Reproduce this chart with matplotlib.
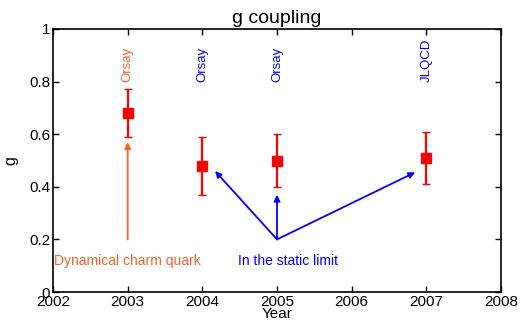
import numpy as np
from matplotlib import pyplot as plt

plt.rcParams['font.family'] = ['Liberation Sans', 'DejaVu Sans']

years = [2003, 2004, 2005, 2007]
g = [0.68, 0.48, 0.50, 0.51]
g_err = [0.09, 0.11, 0.10, 0.10]
groups = ['Orsay', 'Orsay', 'Orsay', 'JLQCD']
group_colors = ['#ff6020', 'blue', 'blue', 'blue']

orange = '#ff6020'

fig = plt.figure(figsize=(5.23, 3.23), dpi=100)
ax = fig.add_axes([53 / 523, 31 / 323, 448 / 523, 263 / 323])

ax.errorbar(years, g, yerr=g_err, fmt='s', color='red', ms=7,
            elinewidth=1.6, capsize=3, capthick=1)

for x, name, c in zip(years, groups, group_colors):
    ax.text(x, 0.80, name, rotation=90, color=c, fontsize=9.5,
            ha='center', va='bottom')

# dynamical charm arrow
ax.annotate('', xy=(2003, 0.57), xytext=(2003, 0.2),
            arrowprops=dict(arrowstyle='-|>', color=orange, lw=1.3,
                            mutation_scale=9, shrinkA=0, shrinkB=0))
ax.text(2002.02, 0.117, 'Dynamical charm quark', color=orange,
        fontsize=10, va='center', ha='left')

# static limit arrows
for tx, ty in [(2004.17, 0.46), (2005, 0.37), (2006.85, 0.455)]:
    ax.annotate('', xy=(tx, ty), xytext=(2005, 0.2),
                arrowprops=dict(arrowstyle='-|>', color='blue', lw=1.3,
                                mutation_scale=9, shrinkA=0, shrinkB=0))
ax.text(2004.48, 0.117, 'In the static limit', color='blue',
        fontsize=10, va='center', ha='left')

ax.set_xlim(2002, 2008)
ax.set_ylim(0, 1)
ax.set_xticks(range(2002, 2009))
ax.set_yticks([0, 0.2, 0.4, 0.6, 0.8, 1])
ax.set_yticklabels(['0', '0.2', '0.4', '0.6', '0.8', '1'])
ax.tick_params(direction='in', top=True, right=True, labelsize=11,
               length=4, width=1, pad=2)
for s in ax.spines.values():
    s.set_linewidth(1.2)

ax.set_title('g coupling', fontsize=14, pad=4)
ax.set_xlabel('Year', fontsize=11, labelpad=-1)
ax.set_ylabel('g', fontsize=11.5, labelpad=8)

plt.savefig('out.png', dpi=100)
